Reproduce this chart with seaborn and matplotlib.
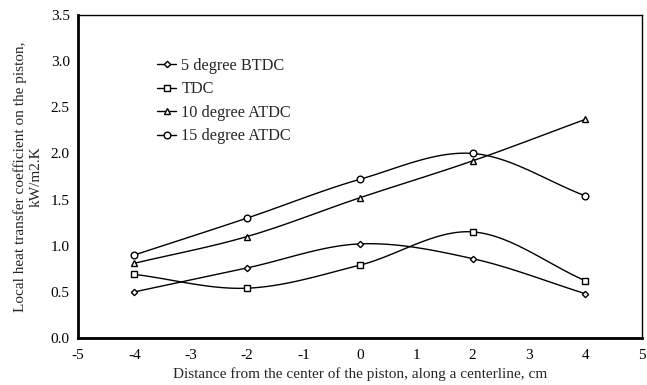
import numpy as np
import pandas as pd
import matplotlib
matplotlib.use("Agg")
import matplotlib.pyplot as plt
import seaborn as sns
from matplotlib.lines import Line2D

positions = [-4, -2, 0, 2, 4]
btdc5 = [0.50, 0.76, 1.02, 0.86, 0.48]
tdc = [0.69, 0.54, 0.79, 1.15, 0.62]
atdc10 = [0.81, 1.10, 1.52, 1.92, 2.37]
atdc15 = [0.90, 1.30, 1.72, 2.00, 1.54]
series_names = ["5 degree BTDC", "TDC", "10 degree ATDC", "15 degree ATDC"]
series_vals = [btdc5, tdc, atdc10, atdc15]
markers = ["D", "s", "^", "o"]
msizes = [3.2, 4.5, 4.5, 4.8]

sns.set_theme(style="white")
plt.rcParams['font.family'] = ['Liberation Serif', 'DejaVu Serif']
plt.rcParams['axes.unicode_minus'] = False

fig = plt.figure(figsize=(6.47, 3.85), dpi=100)
ax = fig.add_axes([0.1206, 0.122, 0.8714, 0.839])

def smooth(x, y, n=30):
    # Catmull-Rom style smoothing (as in spreadsheet smoothed lines)
    x = np.asarray(x, float); y = np.asarray(y, float)
    px = np.concatenate([[2*x[0]-x[1]], x, [2*x[-1]-x[-2]]])
    py = np.concatenate([[2*y[0]-y[1]], y, [2*y[-1]-y[-2]]])
    xs, ys = [], []
    t = np.linspace(0, 1, n)
    for i in range(1, len(px)-2):
        p0, p1, p2, p3 = [np.array([px[j], py[j]]) for j in range(i-1, i+3)]
        pts = 0.5*((2*p1)[:, None] + (-p0+p2)[:, None]*t + (2*p0-5*p1+4*p2-p3)[:, None]*t**2
                   + (-p0+3*p1-3*p2+p3)[:, None]*t**3)
        xs.extend(pts[0]); ys.extend(pts[1])
    return np.array(xs), np.array(ys)

for name, vals, m, ms in zip(series_names, series_vals, markers, msizes):
    sx, sy = smooth(positions, vals)
    ax.plot(sx, sy, color="black", lw=1.0, zorder=2)
    df = pd.DataFrame({"x": positions, "y": vals})
    sns.lineplot(data=df, x="x", y="y", ax=ax, color="black", lw=1.0, marker=m,
                 markersize=ms, markerfacecolor="white", markeredgecolor="black",
                 markeredgewidth=1.0, label=name, linestyle="none", zorder=3)

ax.set_xlim(-5, 5)
ax.set_ylim(0, 3.5)
ax.set_xticks(range(-5, 6))
ax.set_yticks(np.arange(0, 3.51, 0.5))
ax.set_yticklabels([f"{v:.1f}" for v in np.arange(0, 3.51, 0.5)])
ax.tick_params(axis="both", direction="out", length=4, width=1, color="black",
               labelsize=11, labelcolor="black", pad=2)
ax.tick_params(axis="x", pad=4)
for side in ["top", "right"]:
    ax.spines[side].set_color("black")
    ax.spines[side].set_linewidth(1.0)
for side in ["left", "bottom"]:
    ax.spines[side].set_color("black")
    ax.spines[side].set_linewidth(2.0)

ax.set_xlabel("Distance from the center of the piston, along a centerline, cm", fontsize=11, labelpad=4)
ax.set_ylabel("Local heat transfer coefficient on the piston,\nkW/m2.K", fontsize=11, labelpad=6,
              multialignment="center")

hs = [Line2D([], [], color="black", lw=1.0, marker=m, markersize=ms, markerfacecolor="white",
             markeredgecolor="black") for m, ms in zip(markers, msizes)]
ax.legend(hs, series_names, loc="upper left", bbox_to_anchor=(0.14, 0.867), frameon=False,
          fontsize=11.7, handlelength=1.2, handletextpad=0.3, labelspacing=0.46,
          borderpad=0, borderaxespad=0)

fig.savefig("out.png", dpi=100)
